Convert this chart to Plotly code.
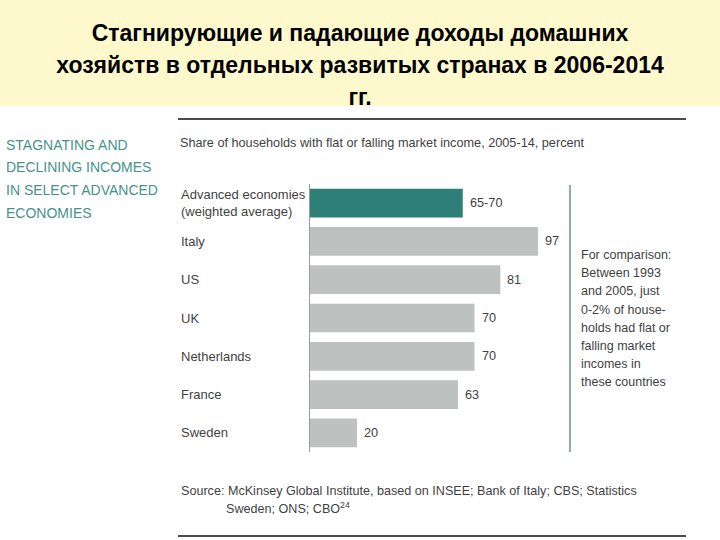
import plotly.graph_objects as go

W, H = 720, 540

categories = ["Advanced economies<br>(weighted average)", "Italy", "US", "UK",
              "Netherlands", "France", "Sweden"]
values = [65, 97, 81, 70, 70, 63, 20]
value_labels = ["65-70", "97", "81", "70", "70", "63", "20"]
bar_colors = ["#2E7F77"] + ["#BFC0C0"] * 6

title_lines = ["Стагнирующие и падающие доходы домашних",
               "хозяйств в отдельных развитых странах в 2006-2014",
               "гг."]
heading_lines = ["STAGNATING AND", "DECLINING INCOMES", "IN SELECT ADVANCED", "ECONOMIES"]
subtitle = "Share of households with flat or falling market income, 2005-14, percent"
comparison_lines = ["For comparison:", "Between 1993", "and 2005, just", "0-2% of house-",
                    "holds had flat or", "falling market", "incomes in", "these countries"]
source_lines = ["Source: McKinsey Global Institute, based on INSEE; Bank of Italy; CBS; Statistics",
                "Sweden; ONS; CBO<sup>24</sup>"]

FONT = "Liberation Sans, Arial, sans-serif"
TEXT = "#3F3F3F"
TEAL = "#46928A"

def px(x):
    return x / W

def py(y):
    return 1 - y / H

fig = go.Figure()

fig.add_trace(go.Bar(
    x=values, y=categories, orientation="h",
    marker=dict(color=bar_colors, line=dict(width=0)),
    hoverinfo="skip", showlegend=False,
))

# title lines inside the header band subplot (third line is clipped by the band edge)
title_y = [35, 67, 99.5]
fig.add_trace(go.Scatter(
    x=[360] * 3, y=title_y, mode="text",
    text=["<b>%s</b>" % t for t in title_lines],
    textfont=dict(family=FONT, size=23, color="#000000"),
    textposition="middle center", cliponaxis=True,
    xaxis="x2", yaxis="y2", hoverinfo="skip", showlegend=False,
))

scale = 2.35  # px per unit
x0 = 310
x1 = 570

fig.update_layout(
    width=W, height=H,
    margin=dict(l=0, r=0, t=0, b=0),
    paper_bgcolor="white", plot_bgcolor="rgba(0,0,0,0)",
    bargap=0.25,
    xaxis=dict(domain=[px(x0), px(x1)], range=[0, (x1 - x0) / scale],
               visible=False, fixedrange=True),
    yaxis=dict(domain=[py(452), py(184)], autorange="reversed",
               categoryorder="array", categoryarray=categories,
               showticklabels=False, ticks="", showgrid=False, zeroline=False,
               showline=True, linecolor="#9A9A9A", linewidth=1, fixedrange=True),
    xaxis2=dict(domain=[0, 1], range=[0, 720], visible=False, anchor="y2", fixedrange=True),
    yaxis2=dict(domain=[py(106), 1], range=[106, 0], visible=False, anchor="x2", fixedrange=True),
)

shapes = [
    dict(type="rect", xref="paper", yref="paper", x0=0, x1=1, y0=py(106), y1=1,
         fillcolor="#FEF8CD", line=dict(width=0), layer="below"),
    dict(type="line", xref="paper", yref="paper", x0=px(178), x1=px(686), y0=py(119), y1=py(119),
         line=dict(color="#111111", width=1.5)),
    dict(type="line", xref="paper", yref="paper", x0=px(178), x1=px(686), y0=py(536), y1=py(536),
         line=dict(color="#111111", width=1.5)),
    dict(type="line", xref="paper", yref="paper", x0=px(570), x1=px(570), y0=py(185), y1=py(452),
         line=dict(color="#8FAEAB", width=2)),
]
fig.update_layout(shapes=shapes)

ann = []
for i, t in enumerate(heading_lines):
    ann.append(dict(text=t, x=px(4), y=py(145 + 22.5 * i), xref="paper", yref="paper",
                    xanchor="left", yanchor="middle", showarrow=False,
                    font=dict(family=FONT, size=14, color=TEAL)))
ann.append(dict(text=subtitle, x=px(178), y=py(143), xref="paper", yref="paper",
                xanchor="left", yanchor="middle", showarrow=False,
                font=dict(family=FONT, size=12.7, color=TEXT)))
for c in categories:
    ann.append(dict(text=c, x=px(179), y=c, xref="paper", yref="y",
                    xanchor="left", yanchor="middle", align="left", showarrow=False,
                    font=dict(family=FONT, size=13, color=TEXT)))
for c, v, lab in zip(categories, values, value_labels):
    ann.append(dict(text=lab, x=v, y=c, xref="x", yref="y",
                    xanchor="left", yanchor="middle", xshift=5, showarrow=False,
                    font=dict(family=FONT, size=12.7, color=TEXT)))
for i, t in enumerate(comparison_lines):
    ann.append(dict(text=t, x=px(579), y=py(255 + 18.2 * i), xref="paper", yref="paper",
                    xanchor="left", yanchor="middle", showarrow=False,
                    font=dict(family=FONT, size=12.5, color=TEXT)))
for i, t in enumerate(source_lines):
    ann.append(dict(text=t, x=px(179 if i == 0 else 224), y=py(491 + 17 * i),
                    xref="paper", yref="paper",
                    xanchor="left", yanchor="middle", showarrow=False,
                    font=dict(family=FONT, size=12.6, color=TEXT)))
fig.update_layout(annotations=ann)

fig.write_html("out.html")
